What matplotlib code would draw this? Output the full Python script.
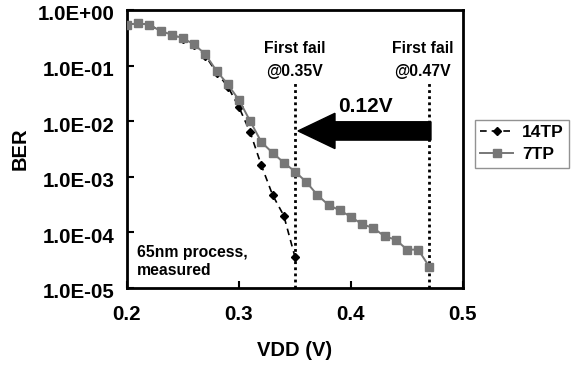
import matplotlib
matplotlib.use("Agg")
import matplotlib.pyplot as plt
from matplotlib.patches import FancyArrow
from matplotlib.ticker import FixedLocator, FixedFormatter
import matplotlib.transforms as mtransforms

plt.rcParams['font.family'] = ['Liberation Sans', 'DejaVu Sans']
plt.rcParams['font.weight'] = 'bold'

# Supply voltage sweep (V)
vdd_7tp = [0.20, 0.21, 0.22, 0.23, 0.24, 0.25, 0.26, 0.27, 0.28, 0.29,
           0.30, 0.31, 0.32, 0.33, 0.34, 0.35, 0.36, 0.37, 0.38, 0.39,
           0.40, 0.41, 0.42, 0.43, 0.44, 0.45, 0.46, 0.47]
ber_7tp = [0.54, 0.58, 0.54, 0.42, 0.36, 0.31, 0.24, 0.16, 0.080, 0.046,
           0.024, 0.010, 0.0042, 0.0027, 0.0018, 0.00124, 8.1e-4, 4.7e-4, 3.1e-4, 2.5e-4,
           1.9e-4, 1.4e-4, 1.2e-4, 8.5e-5, 7.4e-5, 4.9e-5, 4.9e-5, 2.4e-5]

vdd_14tp = [0.20, 0.21, 0.22, 0.23, 0.24, 0.25, 0.26, 0.27, 0.28, 0.29,
            0.30, 0.31, 0.32, 0.33, 0.34, 0.35]
ber_14tp = [0.54, 0.58, 0.54, 0.42, 0.35, 0.30, 0.23, 0.15, 0.075, 0.042,
            0.0178, 0.0063, 0.0016, 4.7e-4, 2.0e-4, 3.6e-5]

y_ticks = [1e0, 1e-1, 1e-2, 1e-3, 1e-4, 1e-5]
y_tick_labels = ["1.0E+00", "1.0E-01", "1.0E-02", "1.0E-03", "1.0E-04", "1.0E-05"]
x_ticks = [0.2, 0.3, 0.4, 0.5]
x_tick_labels = ["0.2", "0.3", "0.4", "0.5"]

fail_14tp = 0.35
fail_7tp = 0.47

fig = plt.figure(figsize=(5.73, 3.65), dpi=100)
ax = fig.add_axes([127 / 573, 1 - 288 / 365, (463 - 127) / 573, (288 - 10) / 365])

ax.plot(vdd_14tp, ber_14tp, color='black', linestyle=(0, (4, 3)), linewidth=1.2,
        marker='D', markersize=4.5, label='14TP', zorder=3)
ax.plot(vdd_7tp, ber_7tp, color='#777777', linestyle='-', linewidth=1.4,
        marker='s', markersize=6.3, markeredgecolor='#777777', label='7TP', zorder=4)

ax.set_yscale('log')
ax.set_ylim(1e-5, 1)
ax.set_xlim(0.2, 0.5)
ax.yaxis.set_major_locator(FixedLocator(y_ticks))
ax.yaxis.set_major_formatter(FixedFormatter(y_tick_labels))
ax.yaxis.set_minor_locator(FixedLocator([]))
ax.set_xticks(x_ticks)
ax.set_xticklabels(x_tick_labels)
ax.tick_params(direction='in', length=5, width=1.5, labelsize=14.8)
ax.tick_params(axis='y', pad=9)
ax.tick_params(axis='x', pad=12)
shift_down = mtransforms.ScaledTranslation(0, -3 / 100, fig.dpi_scale_trans)
for lbl in ax.get_yticklabels():
    lbl.set_transform(lbl.get_transform() + shift_down)
for lbl in ax.get_xticklabels() + ax.get_yticklabels():
    lbl.set_fontweight('bold')
for sp in ax.spines.values():
    sp.set_linewidth(2)

ax.set_xlabel('VDD (V)', fontsize=14.5, fontweight='bold', va='center')
ax.xaxis.set_label_coords(0.5, (288 - 350) / 278)
ax.set_ylabel('BER', fontsize=14.5, fontweight='bold', va='center')
ax.yaxis.set_label_coords((20 - 127) / 336, 0.5)

# First-fail markers
blend = mtransforms.blended_transform_factory(ax.transData, ax.transAxes)
for v in (fail_14tp, fail_7tp):
    ax.plot([v, v], [0, 0.737], transform=blend, color='black', linestyle=(0, (1, 1.2)),
            linewidth=2, zorder=2)

for xc, note in ((fail_14tp, '@0.35V'), (0.464, '@0.47V')):
    ax.text(xc, 0.863, 'First fail', transform=blend, ha='center', va='center',
            fontsize=11.3, fontweight='bold')
    ax.text(xc, 0.779, note, transform=blend, ha='center', va='center',
            fontsize=11.3, fontweight='bold')

# Voltage-gap arrow
arrow = FancyArrow(0.4714, 0.565, -(0.4714 - 0.3527), 0, width=0.066, head_width=0.127,
                   head_length=0.033, length_includes_head=True, transform=blend,
                   color='black', zorder=5)
ax.add_patch(arrow)
ax.text(0.413, 0.654, '0.12V', transform=blend, ha='center', va='center',
        fontsize=15, fontweight='bold')

ax.text(0.2085, 0.095, '65nm process,\nmeasured', transform=blend, ha='left', va='center',
        fontsize=11.3, fontweight='bold', linespacing=1.3)

leg = fig.legend(loc='upper left', bbox_to_anchor=(475 / 573, 1 - 120 / 365),
                 prop={'weight': 'bold', 'size': 12.5}, frameon=True,
                 fancybox=False, edgecolor='#777777', handlelength=1.9,
                 borderpad=0.3, borderaxespad=0, labelspacing=0.4, handletextpad=0.5)
leg.get_frame().set_linewidth(1.0)

fig.savefig('out.png', dpi=100)
